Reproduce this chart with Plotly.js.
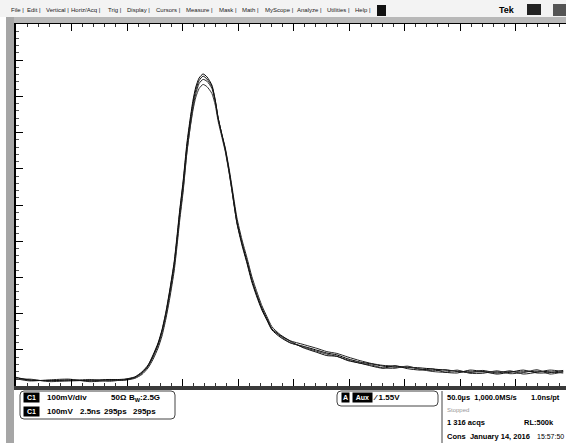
<!DOCTYPE html>
<html>
<head>
<meta charset="utf-8">
<script src="https://cdn.plot.ly/plotly-3.0.0.min.js"></script>
<style>
html,body{margin:0;padding:0;background:#fff;}
#chart{width:566px;height:443px;}
</style>
</head>
<body>
<div id="chart"></div>
<script>
// Time axis in divisions (50.0 µs/div), amplitude in divisions (100 mV/div)
var timeDiv = [0,0.25,0.61,0.95,1.33,1.69,1.96,2.14,2.27,2.38,2.47,2.56,2.63,2.70,2.77,2.85,2.90,2.95,3.01,3.08,3.14,3.19,3.24,3.30,3.37,3.44,3.53,3.59,3.64,3.71,3.77,3.84,3.89,3.98,4.07,4.16,4.25,4.34,4.43,4.52,4.61,4.76,4.94,5.17,5.42,5.60,5.78,5.98,6.20,6.41,6.61,6.83,7.05,7.28,7.51,7.73,7.95,8.18,8.41,8.67,8.90,9.14,9.39,9.62,9.86];

var traceA = [0.22,0.17,0.14,0.17,0.14,0.17,0.19,0.25,0.39,0.58,0.86,1.19,1.55,2.04,2.65,3.43,4.12,4.86,5.64,6.71,7.40,7.90,8.26,8.51,8.62,8.54,8.31,7.90,7.43,6.93,6.52,5.91,5.41,4.50,3.90,3.40,2.87,2.46,2.10,1.82,1.55,1.35,1.19,1.10,0.99,0.91,0.86,0.75,0.66,0.61,0.55,0.52,0.52,0.50,0.47,0.44,0.41,0.39,0.39,0.39,0.39,0.39,0.41,0.39,0.36];
var traceB = [0.20,0.14,0.17,0.19,0.12,0.15,0.16,0.21,0.32,0.50,0.74,1.05,1.38,1.85,2.42,3.18,3.85,4.58,5.35,6.45,7.18,7.70,8.08,8.36,8.47,8.42,8.22,7.85,7.40,6.95,6.58,6.00,5.52,4.65,4.05,3.55,3.02,2.60,2.22,1.92,1.64,1.42,1.25,1.15,1.04,0.95,0.90,0.80,0.70,0.62,0.57,0.55,0.52,0.47,0.42,0.45,0.40,0.37,0.43,0.36,0.42,0.33,0.38,0.44,0.40];
var traceC = [0.18,0.19,0.12,0.15,0.18,0.13,0.18,0.23,0.35,0.54,0.80,1.12,1.46,1.93,2.52,3.28,3.95,4.68,5.42,6.48,7.15,7.63,7.98,8.22,8.33,8.27,8.08,7.76,7.33,6.87,6.48,5.88,5.40,4.52,3.95,3.45,2.92,2.52,2.15,1.86,1.58,1.38,1.20,1.08,0.96,0.88,0.82,0.72,0.63,0.58,0.50,0.49,0.55,0.46,0.40,0.38,0.44,0.35,0.35,0.42,0.34,0.37,0.45,0.33,0.39];
var traceD = [0.24,0.16,0.15,0.14,0.16,0.18,0.17,0.24,0.37,0.56,0.83,1.16,1.52,2.00,2.60,3.38,4.05,4.80,5.58,6.62,7.32,7.82,8.18,8.44,8.56,8.48,8.27,7.88,7.42,6.94,6.55,5.95,5.45,4.55,3.95,3.45,2.92,2.50,2.14,1.86,1.58,1.40,1.24,1.06,0.93,0.84,0.82,0.70,0.63,0.55,0.49,0.56,0.48,0.44,0.47,0.38,0.36,0.44,0.40,0.33,0.38,0.44,0.36,0.37,0.43];

var menuItems = ["File","Edit","Vertical","Horiz/Acq","Trig","Display","Cursors","Measure","Mask","Math","MyScope","Analyze","Utilities","Help"];

var W = 566, H = 443, ML = 16, MR = 0, MT = 24, MB = 57;
var PW = W - ML - MR, PH = H - MT - MB;
function px(x){ return (x - ML) / PW; }
function py(y){ return (H - MB - y) / PH; }

var series = [traceA, traceB, traceC, traceD];
var colors = ['#000000','#222222','#333333','#111111'];
var data = series.map(function(s, i){
  return {x: timeDiv, y: s, type: 'scatter', mode: 'lines',
    line: {color: colors[i], width: 1, shape: 'spline', smoothing: 0.6},
    hoverinfo: 'skip', showlegend: false};
});

var F = 'Liberation Sans, Arial, sans-serif';
var ann = [];
function txt(x, y, t, opts){
  opts = opts || {};
  ann.push({xref:'paper', yref:'paper', x: px(x), y: py(y), text: t, showarrow:false,
    xanchor: opts.xanchor || 'left', yanchor:'middle',
    font:{family:F, size: opts.size || 8, color: opts.color || '#000', weight: opts.weight || 'bold'},
    bgcolor: opts.bg || 'rgba(0,0,0,0)', borderpad: opts.pad || 0});
}
// menu bar
var menuX = [10, 26, 45, 70, 107, 126, 155, 185, 218, 241, 264, 296, 326, 354];
menuItems.forEach(function(m, i){
  txt(menuX[i], 10, m + ' |', {size: 6, weight: 'normal', color:'#222'});
});
txt(498, 10, 'Tek', {size: 9, weight:'bold'});

// channel box
txt(23, 398, ' C1 ', {bg:'#000', color:'#fff', size:7, pad:1});
txt(46, 398, '100mV/div');
txt(110, 398, '50Ω');
txt(128, 398, 'B<sub>W</sub>:2.5G');
txt(23, 411, ' C1 ', {bg:'#000', color:'#fff', size:7, pad:1});
txt(46, 411, '100mV');
txt(79, 411, '2.5ns');
txt(103, 411, '295ps');
txt(132, 411, '295ps');

// trigger box
txt(341, 398, 'A', {bg:'#000', color:'#fff', size:7, pad:1});
txt(352, 398, ' Aux ', {bg:'#000', color:'#fff', size:7, pad:1});
txt(372, 398, '⁄ 1.55V');

// acquisition panel
txt(446, 398, '50.0µs  1,000.0MS/s', {size:7.5});
txt(530, 398, '1.0ns/pt', {size:7.5});
txt(446, 410, 'Stopped', {size:6, weight:'normal', color:'#999'});
txt(446, 423, '1 316 acqs', {size:7.5});
txt(523, 423, 'RL:500k', {size:7.5});
txt(446, 436, 'Cons  January 14, 2016', {size:7.5});
txt(565, 436, '15:57:50', {weight:'normal', xanchor:'right', size:7});

function roundRect(x0, y0, x1, y1, r){
  var a = px(x0), b = px(x1), c = py(y0), d = py(y1);
  var rx = r / PW, ry = r / PH;
  return 'M' + (a+rx) + ',' + c + ' L' + (b-rx) + ',' + c + ' Q' + b + ',' + c + ' ' + b + ',' + (c-ry) +
    ' L' + b + ',' + (d+ry) + ' Q' + b + ',' + d + ' ' + (b-rx) + ',' + d +
    ' L' + (a+rx) + ',' + d + ' Q' + a + ',' + d + ' ' + a + ',' + (d+ry) +
    ' L' + a + ',' + (c-ry) + ' Q' + a + ',' + c + ' ' + (a+rx) + ',' + c + ' Z';
}

var shapes = [
  {type:'rect', xref:'paper', yref:'paper', x0:px(0), x1:px(566), y0:py(0), y1:py(17), fillcolor:'#f3f3f3', line:{width:0}, layer:'below'},
  {type:'rect', xref:'paper', yref:'paper', x0:px(7), x1:px(566), y0:py(17), y1:py(23), fillcolor:'#b8b8b8', line:{width:0}},
  {type:'rect', xref:'paper', yref:'paper', x0:px(6), x1:px(14), y0:py(17), y1:py(443), fillcolor:'#a6a6a6', line:{width:0}},
  {type:'rect', xref:'paper', yref:'paper', x0:px(14), x1:px(566), y0:py(386), y1:py(390), fillcolor:'#3a3a3a', line:{width:0}},
  {type:'rect', xref:'paper', yref:'paper', x0:px(377), x1:px(386), y0:py(5), y1:py(16), fillcolor:'#111', line:{width:0}},
  {type:'rect', xref:'paper', yref:'paper', x0:px(527), x1:px(541), y0:py(4), y1:py(15), fillcolor:'#222', line:{width:0}},
  {type:'rect', xref:'paper', yref:'paper', x0:px(553), x1:px(566), y0:py(4), y1:py(16), fillcolor:'#555', line:{width:0}},
  {type:'path', xref:'paper', yref:'paper', path: roundRect(20, 391, 175, 419, 4), line:{color:'#444', width:1}},
  {type:'path', xref:'paper', yref:'paper', path: roundRect(337, 391, 438, 406, 4), line:{color:'#444', width:1}},
  {type:'line', xref:'paper', yref:'paper', x0:px(442), x1:px(442), y0:py(391), y1:py(443), line:{color:'#444', width:1}}
];

var layout = {
  width: W, height: H,
  margin: {l: ML, r: MR, t: MT, b: MB, pad: 0},
  paper_bgcolor: '#ffffff', plot_bgcolor: '#ffffff',
  showlegend: false,
  xaxis: {range: [0, PW / 55.5], showgrid:false, zeroline:false, showticklabels:false,
    showline:true, linecolor:'#000', linewidth:2, mirror:'ticks',
    ticks:'inside', tick0:0, dtick:1, ticklen:7, tickcolor:'#000', tickwidth:1,
    minor:{ticks:'inside', dtick:0.2, ticklen:3, tickcolor:'#333', tickwidth:1, showgrid:false}},
  yaxis: {range: [0, 10], showgrid:false, zeroline:false, showticklabels:false,
    showline:true, linecolor:'#000', linewidth:2,
    ticks:'inside', tick0:0, dtick:1, ticklen:7, tickcolor:'#000', tickwidth:1,
    minor:{ticks:'inside', dtick:0.2, ticklen:3, tickcolor:'#555', tickwidth:1, showgrid:false}},
  shapes: shapes,
  annotations: ann
};

Plotly.newPlot('chart', data, layout, {displayModeBar:false, staticPlot:true});
</script>
</body>
</html>
